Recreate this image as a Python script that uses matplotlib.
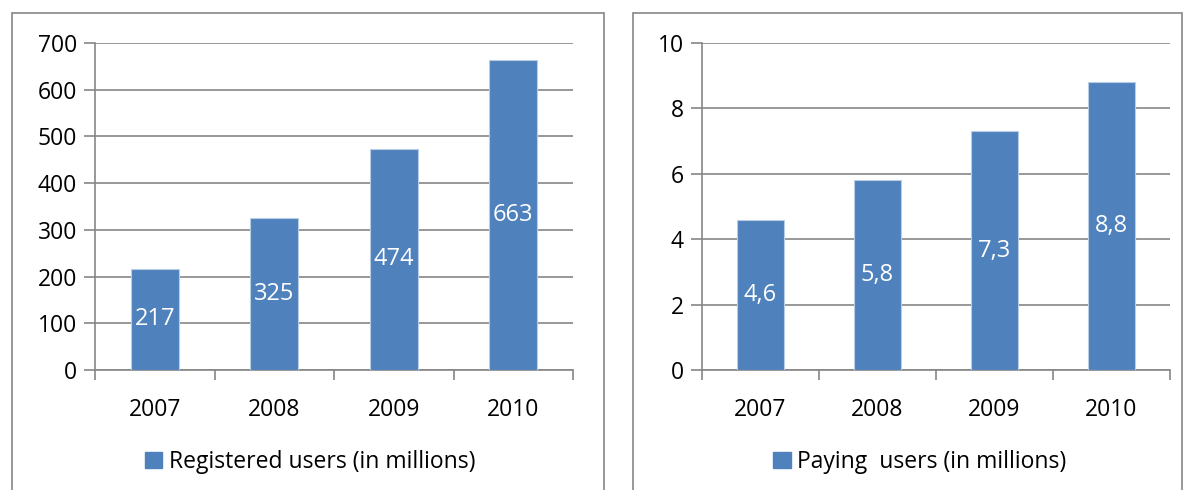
import matplotlib
matplotlib.use("Agg")
import matplotlib.pyplot as plt
from matplotlib.patches import Rectangle, Patch

years = ["2007", "2008", "2009", "2010"]
registered = [217, 325, 474, 663]
paying = [4.6, 5.8, 7.3, 8.8]
registered_labels = ["217", "325", "474", "663"]
paying_labels = ["4,6", "5,8", "7,3", "8,8"]

BAR = "#4F81BD"
GRID = "#868686"
FONT = "Open Sans"
FS = 16.5
plt.rcParams["font.family"] = [FONT, "DejaVu Sans"]

W, H = 1183, 490
fig = plt.figure(figsize=(W / 100, H / 100), dpi=100)


def box(x0, y0, x1, y1):
    return [x0 / W, 1 - y1 / H, (x1 - x0) / W, (y1 - y0) / H]


# panel frames
for x0, x1 in [(12, 604), (633, 1182)]:
    fig.add_artist(Rectangle((x0 / W, -0.1), (x1 - x0) / W, 1.1 - 13 / H,
                             transform=fig.transFigure, fill=False,
                             edgecolor=GRID, linewidth=1.2))


def panel(rect, values, labels, ymax, step, legend_label, legend_x):
    ax = fig.add_axes(box(*rect))
    x = range(len(years))
    ax.bar(x, values, width=0.4, color=BAR, edgecolor="#B9CDE5",
           linewidth=0.8, zorder=3)
    for xi, v, lab in zip(x, values, labels):
        ax.text(xi, v / 2, lab, ha="center", va="center", color="white",
                fontsize=17, zorder=4)
    ax.set_xlim(-0.5, len(years) - 0.5)
    ax.set_ylim(0, ymax)
    yt = [i * step for i in range(int(round(ymax / step)) + 1)]
    ax.set_yticks(yt)
    ax.set_yticklabels([f"{t:g}" for t in yt], fontsize=FS)
    ax.set_xticks(list(x))
    ax.set_xticklabels(years, fontsize=FS)
    ax.set_xticks([i - 0.5 for i in range(len(years) + 1)], minor=True)
    ax.tick_params(axis="x", which="major", length=0, pad=20)
    ax.tick_params(axis="x", which="minor", length=7, color=GRID, width=1.2)
    ax.tick_params(axis="y", length=8, color=GRID, width=1.2, pad=5)
    ax.yaxis.grid(True, color=GRID, linewidth=1.2, zorder=0)
    ax.set_axisbelow(True)
    for s in ["top", "right"]:
        ax.spines[s].set_visible(False)
    for s in ["left", "bottom"]:
        ax.spines[s].set_color(GRID)
        ax.spines[s].set_linewidth(1.2)
    fig.legend(handles=[Patch(color=BAR, label=legend_label)],
               loc="center", bbox_to_anchor=(legend_x / W, 1 - 462 / H),
               frameon=False, fontsize=FS, handlelength=0.75, handleheight=0.75,
               handletextpad=0.3)
    return ax


panel((95, 43, 573, 370), registered, registered_labels, 700, 100,
      "Registered users (in millions)", 310)
panel((702, 43, 1170, 370), paying, paying_labels, 10, 2,
      "Paying  users (in millions)", 920)

fig.savefig("out.png", dpi=100)
